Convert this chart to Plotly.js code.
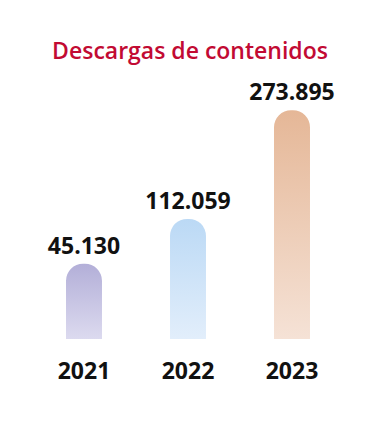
<!DOCTYPE html>
<html>
<head>
<meta charset="utf-8">
<script src="https://cdn.plot.ly/plotly-3.0.1.min.js"></script>
<style>
  html, body { margin: 0; padding: 0; background: #ffffff; }
  #chart { width: 380px; height: 432px; }
</style>
</head>
<body>
<div id="chart"></div>
<script>
const years = ['2021', '2022', '2023'];
const downloads = [45130, 112059, 273895];
const downloadLabels = ['45.130', '112.059', '273.895'];

// visible floor of the (non zero-based) value axis, as in the original artwork
const axisFloor = -66900;
const axisTop = 348800;
const barBase = -140000; // below the visible floor, clipped away

const gradients = [
  ['#b3afd8', '#dcdaef'],
  ['#bbd9f5', '#e2eefb'],
  ['#e5b797', '#f5e2d6']
];

const trace = {
  type: 'bar',
  x: years,
  y: downloads.map(v => v - barBase),
  base: barBase,
  text: downloadLabels,
  textposition: 'outside',
  constraintext: 'none',
  cliponaxis: true,
  textfont: { family: 'Open Sans, sans-serif', size: 23, weight: 700, color: '#111111' },
  marker: { color: gradients.map(g => g[0]), cornerradius: 18 },
  hoverinfo: 'skip'
};

const layout = {
  width: 380,
  height: 432,
  margin: { l: 32, r: 36, t: 60, b: 93 },
  paper_bgcolor: '#ffffff',
  plot_bgcolor: '#ffffff',
  showlegend: false,
  bargap: 0.654,
  title: {
    text: 'Descargas de contenidos',
    x: 0.5,
    xanchor: 'center',
    y: 0.882,
    yref: 'container',
    yanchor: 'middle',
    font: { family: 'Open Sans, sans-serif', size: 23, weight: 600, color: '#c20a33' }
  },
  xaxis: {
    type: 'category',
    showgrid: false,
    zeroline: false,
    showline: false,
    ticks: '',
    ticklabelstandoff: 16,
    tickfont: { family: 'Open Sans, sans-serif', size: 23, weight: 700, color: '#111111' }
  },
  yaxis: {
    range: [axisFloor, axisTop],
    visible: false,
    showgrid: false,
    zeroline: false,
    fixedrange: true
  }
};

Plotly.newPlot('chart', [trace], layout, { staticPlot: true, displayModeBar: false }).then(gd => {
  const svg = gd.querySelector('svg.main-svg');
  const ns = 'http://www.w3.org/2000/svg';
  let defs = svg.querySelector('defs');
  if (!defs) { defs = document.createElementNS(ns, 'defs'); svg.insertBefore(defs, svg.firstChild); }
  gradients.forEach((g, i) => {
    const lg = document.createElementNS(ns, 'linearGradient');
    lg.setAttribute('id', 'barGrad' + i);
    lg.setAttribute('gradientUnits', 'userSpaceOnUse');
    defs.appendChild(lg);
    [[0, g[0]], [1, g[1]]].forEach(([o, c]) => {
      const s = document.createElementNS(ns, 'stop');
      s.setAttribute('offset', o);
      s.setAttribute('stop-color', c);
      lg.appendChild(s);
    });
  });
  const ya = gd._fullLayout.yaxis;
  const floorPx = ya.l2p(axisFloor);
  gd.querySelectorAll('.trace.bars .point path').forEach((p, i) => {
    const lg = defs.querySelector('#barGrad' + i);
    const topPx = ya.l2p(downloads[i]);
    lg.setAttribute('x1', 0); lg.setAttribute('x2', 0);
    lg.setAttribute('y1', topPx); lg.setAttribute('y2', floorPx);
    p.style.fill = 'url(#barGrad' + i + ')';
  });
});
</script>
</body>
</html>
